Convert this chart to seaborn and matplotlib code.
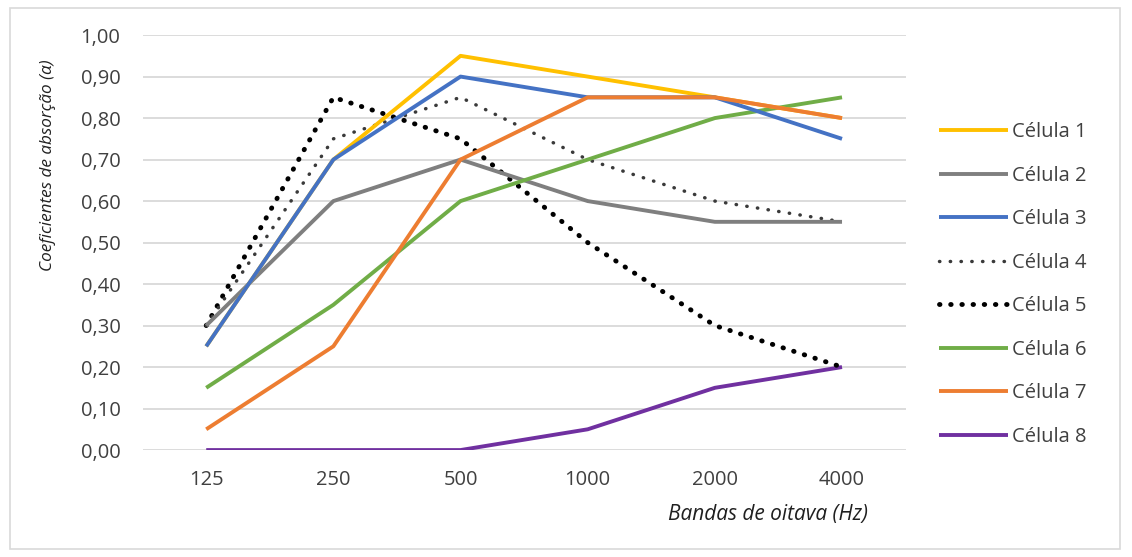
import matplotlib
matplotlib.use("Agg")
import matplotlib.pyplot as plt
import seaborn as sns
import pandas as pd
from matplotlib.patches import Rectangle
from matplotlib.ticker import FuncFormatter

# data
bands = ["125", "250", "500", "1000", "2000", "4000"]
celula1 = [0.25, 0.70, 0.95, 0.90, 0.85, 0.80]
celula2 = [0.30, 0.60, 0.70, 0.60, 0.55, 0.55]
celula3 = [0.25, 0.70, 0.90, 0.85, 0.85, 0.75]
celula4 = [0.30, 0.75, 0.85, 0.70, 0.60, 0.55]
celula5 = [0.30, 0.85, 0.75, 0.50, 0.30, 0.20]
celula6 = [0.15, 0.35, 0.60, 0.70, 0.80, 0.85]
celula7 = [0.05, 0.25, 0.70, 0.85, 0.85, 0.80]
celula8 = [0.00, 0.00, 0.00, 0.05, 0.15, 0.20]

series = {
    "Célula 1": celula1, "Célula 2": celula2, "Célula 3": celula3,
    "Célula 4": celula4, "Célula 5": celula5, "Célula 6": celula6,
    "Célula 7": celula7, "Célula 8": celula8,
}
styles = {
    "Célula 1": ("#FFC000", "-", 2.8),
    "Célula 2": ("#7F7F7F", "-", 2.8),
    "Célula 3": ("#4472C4", "-", 2.8),
    "Célula 4": ("#3A3A3A", (0, (0.1, 3.0)), 2.5),
    "Célula 5": ("#000000", (0, (0.1, 2.2)), 3.5),
    "Célula 6": ("#70AD47", "-", 2.8),
    "Célula 7": ("#ED7D31", "-", 2.8),
    "Célula 8": ("#7030A0", "-", 2.8),
}

sns.set_style("white")
plt.rcParams["font.family"] = ["Open Sans", "DejaVu Sans"]

fig = plt.figure(figsize=(11.32, 5.57), dpi=100)
ax = fig.add_axes([0.126, 0.192, 0.674, 0.745])

# drawing order so the overlaps look like the reference
draw_order = ["Célula 8", "Célula 5", "Célula 4", "Célula 2", "Célula 6",
              "Célula 1", "Célula 3", "Célula 7"]
for name in draw_order:
    color, ls, lw = styles[name]
    df = pd.DataFrame({"band": bands, "value": series[name]})
    sns.lineplot(data=df, x="band", y="value", ax=ax, color=color,
                 linestyle=ls, linewidth=lw, label=name, sort=False,
                 dash_capstyle="round", solid_capstyle="butt")

ax.set_ylim(0, 1.0)
ax.set_xlim(-0.5, 5.5)
ax.set_yticks([i / 10 for i in range(11)])
ax.yaxis.set_major_formatter(FuncFormatter(lambda v, p: f"{v:.2f}".replace(".", ",")))
ax.grid(axis="y", color="#D9D9D9", linewidth=1.3)
for s in ax.spines.values():
    s.set_visible(False)
ax.tick_params(axis="both", length=0, labelsize=14.5, colors="#404040")
ax.tick_params(axis="y", pad=16)
ax.tick_params(axis="x", pad=14)

ax.set_ylabel("Coeficientes de absorção (α)", fontsize=12.3, style="italic", color="#202020")
ax.yaxis.set_label_coords(-0.113, 0.687)
ax.set_xlabel("Bandas de oitava (Hz)", fontsize=15, style="italic", color="#202020")
ax.xaxis.set_label_coords(0.819, -0.13)

handles, labels = ax.get_legend_handles_labels()
hmap = dict(zip(labels, handles))
order = list(series.keys())
ax.legend([hmap[k] for k in order], order, loc="upper left",
          bbox_to_anchor=(1.033, 0.81), frameon=False, fontsize=14.5,
          handlelength=3.45, handletextpad=0.2, labelspacing=1.17,
          labelcolor="#404040", borderaxespad=0)

fig.patches.append(Rectangle((0.009, 0.015), 0.98, 0.97, transform=fig.transFigure,
                             fill=False, edgecolor="#D9D9D9", linewidth=1.2))

fig.savefig("out.png", dpi=100)
